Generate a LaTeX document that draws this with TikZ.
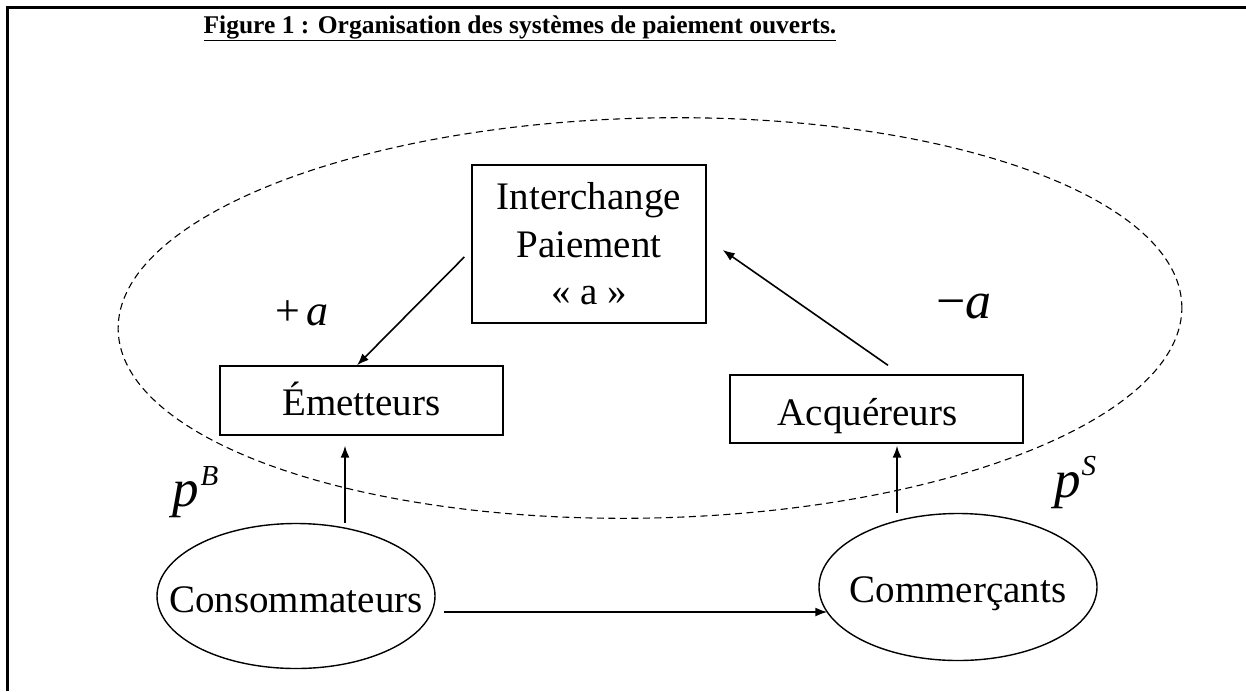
\documentclass[tikz,border=0pt]{standalone}
\usepackage{fontspec}
\setmainfont{Liberation Serif}
\usetikzlibrary{shapes.geometric,arrows.meta,calc}
\begin{document}
\begin{tikzpicture}[x=1pt,y=-1pt,
  boxnode/.style={draw,line width=1.4pt,rectangle,inner sep=0pt,font=\fontsize{39}{47.5}\selectfont},
  ovalnode/.style={draw,line width=1.4pt,ellipse,inner sep=0pt,font=\fontsize{39}{47}\selectfont},
  arr/.style={line width=1.6pt,-{Latex[length=12pt,width=9pt]}},
  lbl/.style={inner sep=0pt,anchor=base west},
]
\useasboundingbox (0,0) rectangle (1246,691);
\draw[line width=3pt] (7,691) -- (7,7) -- (1246,7);
\node[font=\fontsize{25.5}{30}\selectfont\bfseries, anchor=base, inner sep=0pt] (title) at (520,33) {\underline{Figure 1 : Organisation des systèmes de paiement ouverts.}};

\draw[line width=1.1pt, dash pattern=on 7pt off 4.5pt, rotate around={1.3:(650,318)}] (650,318) ellipse [x radius=532, y radius=200];

\node[boxnode, minimum width=234pt, minimum height=158pt, align=center] (inter) at (589,244) {Interchange\\Paiement\\« a »};
\node[boxnode, minimum width=283pt, minimum height=69pt, text height=29pt, text depth=0pt] (emet) at (361.5,400.5) {Émetteurs};
\node[boxnode, minimum width=293pt, minimum height=68pt, text height=32pt, text depth=0pt] (acq) at (876.5,409) {\hspace*{-18pt}Acquéreurs};
\node[ovalnode, minimum width=278pt, minimum height=145pt, text height=32pt, text depth=0pt] (cons) at (296,596) {\makebox[0pt]{Consommateurs}};
\node[ovalnode, minimum width=278pt, minimum height=147pt, text height=30pt, text depth=0pt] (comm) at (958,587) {\makebox[0pt]{Commerçants}};

\node[lbl, font=\fontsize{44}{50}\selectfont] (plusa) at (275,325) {+\hspace{6pt}\textit{a}};
\node[lbl, font=\fontsize{52}{60}\selectfont] (minusa) at (936,318) {−\textit{a}};
\node[lbl, font=\fontsize{53}{60}\selectfont] (pB) at (172,506) {\textit{p}\hspace{2pt}\raisebox{21pt}{\fontsize{29}{30}\selectfont\textit{B}}};
\node[lbl, font=\fontsize{53}{60}\selectfont] (pS) at (1054,497) {\textit{p}\hspace{1pt}\raisebox{22pt}{\fontsize{29}{30}\selectfont\textit{S}}};

\coordinate (a1s) at ($(inter.west)+(-7,13)$);
\coordinate (a1e) at ($(emet.north)+(-4.5,0)$);
\draw[arr] (a1s) -- (a1e);
\coordinate (a2s) at ($(acq.north)+(11.5,-9)$);
\coordinate (a2e) at ($(inter.east)+(16,6)$);
\draw[arr] (a2s) -- (a2e);
\coordinate (a3s) at ($(cons.north)+(49,0)$);
\coordinate (a3e) at ($(emet.south)+(-16.5,10)$);
\draw[arr] (a3s) -- (a3e);
\coordinate (a4s) at ($(comm.north)+(-61,0)$);
\coordinate (a4e) at ($(acq.south)+(20.5,2)$);
\draw[arr] (a4s) -- (a4e);
\coordinate (a5s) at ($(cons.east)+(8,16)$);
\coordinate (a5e) at ($(comm.west)+(9,25)$);
\draw[arr] (a5s) -- (a5e);
\end{tikzpicture}
\end{document}
